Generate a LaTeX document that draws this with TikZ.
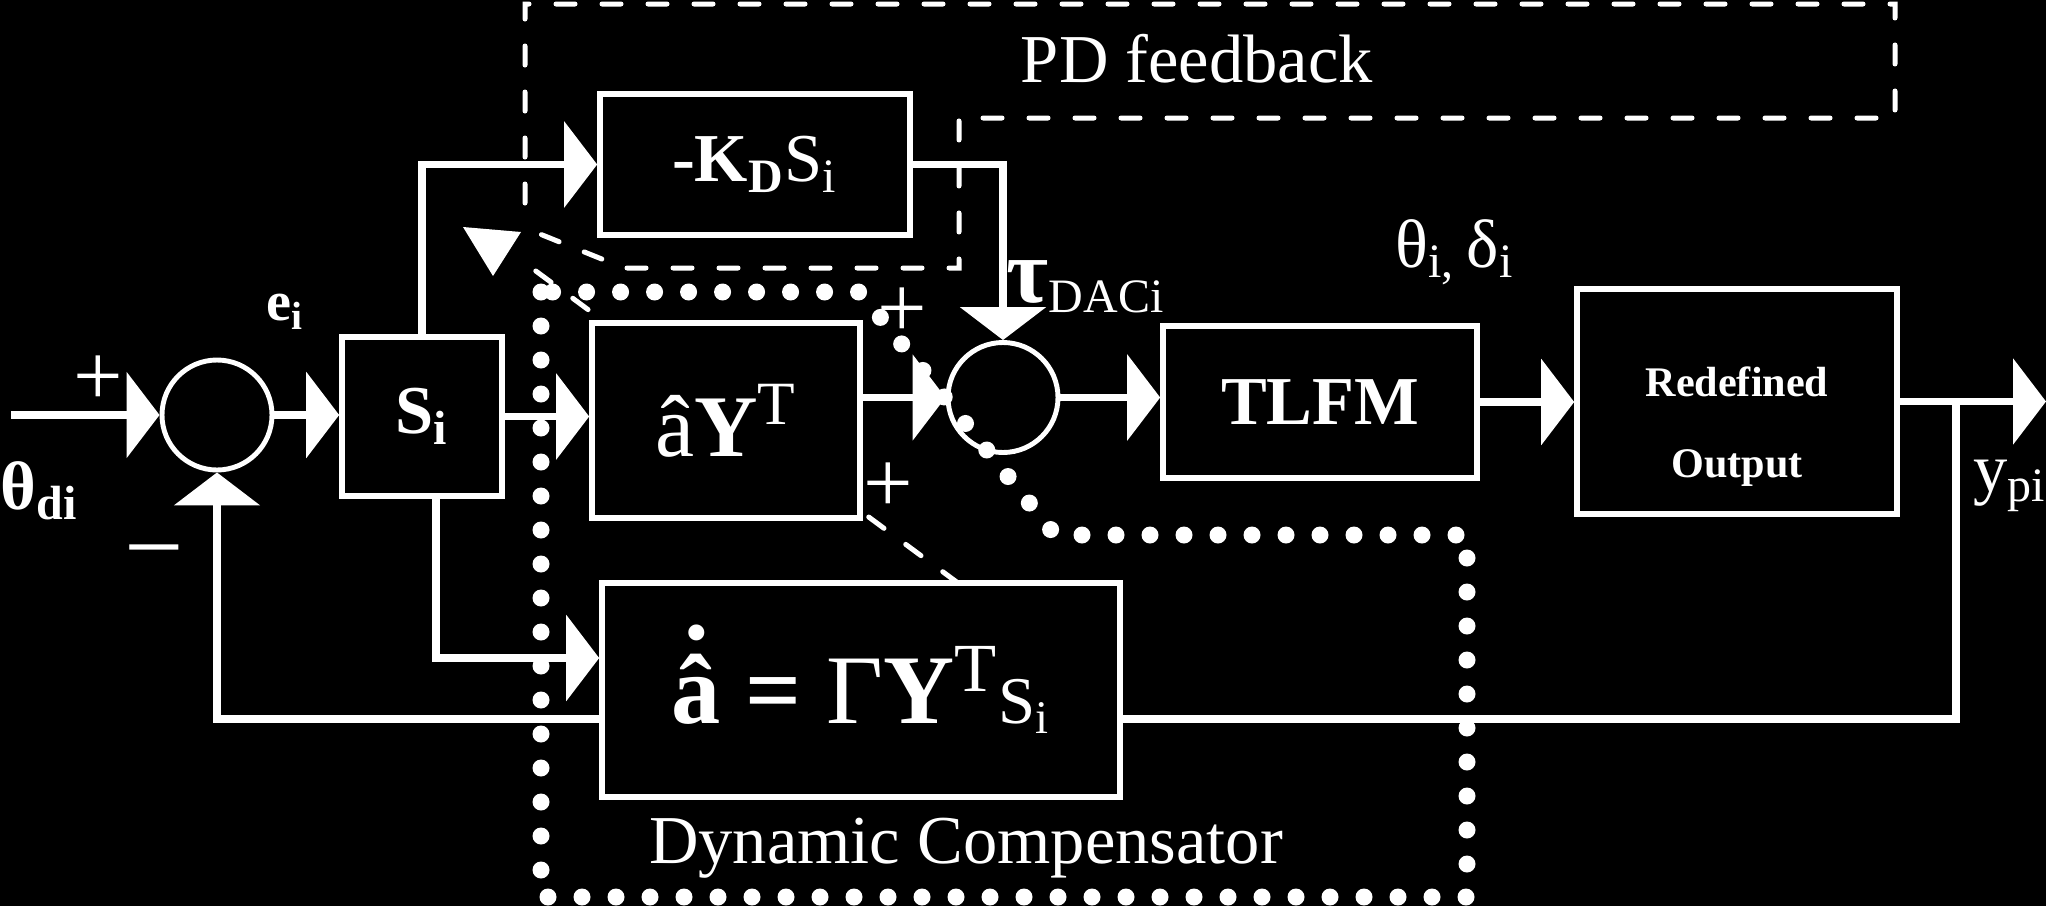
\documentclass[tikz,border=0pt]{standalone}
\usepackage{fontspec}
\setmainfont{Liberation Serif}
\usepackage{tikz}
\usetikzlibrary{arrows.meta, calc}
\usepackage{xcolor}
\definecolor{ink}{HTML}{FFFFFF}
\definecolor{paper}{HTML}{000000}

\begin{document}
\begin{tikzpicture}[
    every node/.style={text=ink},
    box/.style={draw=ink, line width=1.6pt, fill=paper, inner sep=0pt, font=\fontsize{19.5}{23}\selectfont},
    sumc/.style={draw=ink, circle, line width=1.4pt, fill=paper, minimum size=1.1cm, inner sep=0pt},
    wire/.style={draw=ink, line width=2.1pt},
    arr/.style={wire, -{Triangle[length=3.3mm, width=8.5mm]}},
    pdline/.style={draw=ink, line width=0.5mm, dash pattern=on 1.9mm off 2.7mm, line cap=round},
    dcdots/.style={draw=ink, line width=1.7mm, dash pattern=on 0pt off 3.4mm, line cap=round},
    sign/.style={font=\fontsize{25}{25}\selectfont, inner sep=0pt},
    lbl/.style={font=\fontsize{19.5}{23}\selectfont, anchor=base, inner sep=0pt},
]

% Background
\fill[paper] (0,0) rectangle (20.46,-9.06);
\useasboundingbox (0,0) rectangle (20.46,-9.06);

% Blocks
\node[sumc] (sum1) at (2.17,-4.15) {};
\node[box, minimum width=1.6cm, minimum height=1.59cm, font=\fontsize{19.5}{23}\selectfont\bfseries] (Si) at (4.22,-4.165) {S\textsubscript{i}};
\node[box, minimum width=3.1cm, minimum height=1.41cm] (KD) at (7.55,-1.645) {\textbf{-K\textsubscript{D}}S\textsubscript{i}};
\node[sumc] (sum2) at (10.03,-3.975) {};
\node[box, minimum width=3.14cm, minimum height=1.52cm, font=\fontsize{19.5}{23}\selectfont\bfseries] (tlfm) at (13.20,-4.02) {TLFM};
\node[box, minimum width=3.2cm, minimum height=2.25cm] (redef) at (17.37,-4.015) {};
\node[font=\fontsize{12}{23}\selectfont\bfseries, align=center] at ([yshift=-2.5mm]redef.center) {Redefined\\Output};

% Points
\coordinate (in) at (0.11,-4.15);
\coordinate (yout) at (20.46,-4.02);
\coordinate (tap) at (19.56,-4.02);
\coordinate (fbR) at (19.56,-7.19);

% Feedback and adaptation (behind the blocks)
\draw[arr] (tap) -- (fbR) -| (sum1.south);
\draw[pdline] (9.58,-5.83) -- (5.25,-2.63);

\node[box, minimum width=2.68cm, minimum height=1.95cm, font=\fontsize{25}{28}\selectfont] (aY) at (7.26,-4.205) {â\textbf{Y}\textsuperscript{T}};
\node[box, minimum width=5.18cm, minimum height=2.14cm, font=\fontsize{28}{32}\selectfont] (adapt) at (8.61,-6.90) {\textbf{\ooalign{â\cr\hidewidth\raisebox{0.85em}{.}\hidewidth\cr}} \textbf{=} Γ\textbf{Y}\textsuperscript{T}{\fontsize{19}{20}\selectfont S\textsubscript{i}}};

% Arrows
\draw[arr] (in) -- (sum1.west);
\draw[arr] (sum1.east) -- (sum1.east -| Si.west);
\draw[arr] (Si.north) |- (KD.west);
\draw[arr] (Si.east) -- (Si.east -| aY.west);
\draw[arr] ([xshift=1.4mm]Si.south) |- ([yshift=3.2mm]adapt.west);
\draw[arr] (KD.east) -| (sum2.north);
\draw[arr] (aY.east |- sum2.west) -- (sum2.west);
\draw[arr] (sum2.east) -- (sum2.east -| tlfm.west);
\draw[arr] (tlfm.east) -- (tlfm.east -| redef.west);
\draw[arr] (redef.east) -- (redef.east -| yout);

% Labels
\node[lbl, anchor=base west, font=\fontsize{19.5}{23}\selectfont\bfseries] at (0,-5.09) {θ\textsubscript{di}};
\node[lbl, font=\fontsize{16}{18}\selectfont\bfseries] at (2.85,-3.20) {e\textsubscript{i}};
\node[sign] at (0.98,-3.81) {+};
\node[sign, font=\fontsize{30}{30}\selectfont] at (1.54,-5.64) {−};
\node[sign] at (9.02,-3.13) {+};
\node[sign] at (8.88,-4.88) {+};
\node[lbl, anchor=base west] at (10.06,-3.02) {{\fontsize{26}{26}\selectfont\bfseries τ}\textsubscript{DACi}};
\node[lbl] at (14.55,-2.67) {θ\textsubscript{i,}\,δ\textsubscript{i}};
\node[lbl] at (20.10,-4.91) {y\textsubscript{pi}};
\node[lbl] at (11.97,-0.82) {PD feedback};
\node[lbl] at (9.66,-8.63) {Dynamic Compensator};

% PD feedback region
\draw[pdline] (5.25,-2.03) -- (5.25,-0.04) -- (18.95,-0.04) -- (18.95,-1.18) -- (9.59,-1.18) -- (9.59,-2.68) -- (6.24,-2.68) -- (5.30,-2.30);
\fill[ink] (4.63,-2.27) -- (5.21,-2.32) -- (4.93,-2.76) -- cycle;

% Dynamic compensator region
\draw[dcdots] (5.41,-2.92) -- (5.41,-8.97) -- (14.67,-8.97) -- (14.67,-5.35) -- (10.55,-5.35) -- (8.60,-2.92) -- cycle;

\end{tikzpicture}
\end{document}
